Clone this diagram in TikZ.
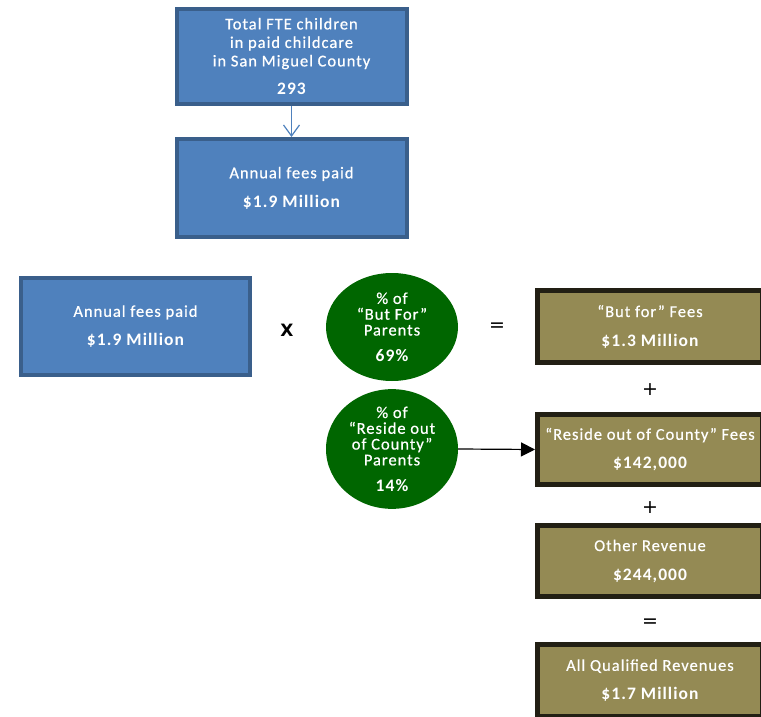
\documentclass[tikz,border=0pt]{standalone}
\usepackage{fontspec}
\setmainfont{Carlito}[LetterSpace=6, UprightFeatures={FakeBold=0.6}]
\newfontfamily\opfont{DejaVu Sans}
\newfontfamily\xfont{DejaVu Sans Bold}
\usetikzlibrary{shapes.geometric,arrows.meta}
\definecolor{bluefill}{HTML}{4F81BD}
\definecolor{blueline}{HTML}{3A5F8B}
\definecolor{olivefill}{HTML}{948A54}
\definecolor{oliveline}{HTML}{221F14}
\definecolor{greenfill}{HTML}{006600}
\newcommand\bignum[1]{{\fontsize{17.5}{18.5}\selectfont\bfseries #1}}
\begin{document}
\begin{tikzpicture}[x=1pt,y=-1pt,
  bluebox/.style={draw=blueline, line width=4pt, fill=bluefill, text=white,
    minimum width=230pt, align=center, inner sep=0pt,
    font=\fontsize{16.5}{18.5}\selectfont},
  olivebox/.style={draw=oliveline, line width=5pt, fill=olivefill, text=white,
    minimum width=225pt, minimum height=71pt, align=center, inner sep=0pt,
    font=\fontsize{16.5}{18.5}\selectfont},
  greenell/.style={ellipse, fill=greenfill, text=white, minimum width=132pt,
    minimum height=108pt, inner sep=0pt, align=center,
    font=\fontsize{16.5}{15.8}\selectfont},
  opsign/.style={text=black, inner sep=0pt, font=\opfont\fontsize{19}{19}\selectfont}
]
\useasboundingbox (0,0) rectangle (761,717);
\clip (0,0) rectangle (761,717);

% top column
\node[bluebox, minimum height=95pt] (fte) at (291.5,56.5)
  {Total FTE  children\\in paid childcare\\in San Miguel County\\[10pt]\bignum{293}};
\node[bluebox, minimum height=98pt] (fees1) at (291.5,188)
  {Annual fees paid\\[10.5pt]\bignum{\$1.9 Million}};
\draw[draw=bluefill, line width=1.2pt, -{Straight Barb[length=11pt,width=16pt]}] (fte.south) -- (fees1.north);

% formula row
\node[bluebox, minimum width=229pt, minimum height=97pt] (fees2) at (135.5,326.5)
  {Annual fees paid\\[10.5pt]\bignum{\$1.9 Million}};
\node[text=black, inner sep=0pt, font=\xfont\fontsize{17}{17}\selectfont] (times) at (287,330) {X};
\node[greenell] (butfor) at (392,327)
  {\% of\\“But For”\\Parents\\[10pt]\bignum{69\%}};
\node[opsign] (eq1) at (497,327) {=};
\node[greenell] (reside) at (392,449)
  {\% of\\“Reside out\\of County”\\Parents\\[10pt]\bignum{14\%}};

% right column
\node[olivebox, minimum height=72pt] (r1) at (650,326.5)
  {“But for” Fees\\[10.5pt]\bignum{\$1.3 Million}};
\node[opsign] (plus1) at (650,390) {+};
\node[olivebox, minimum height=70pt] (r2) at (650,449.5)
  {“Reside out of County” Fees\\[10.5pt]\bignum{\$142,000}};
\node[opsign] (plus2) at (650,508) {+};
\node[olivebox, minimum height=71pt] (r3) at (650,561)
  {Other Revenue\\[10.5pt]\bignum{\$244,000}};
\node[opsign] (eq2) at (650,623) {=};
\node[olivebox, minimum height=72pt] (r4) at (650,680.5)
  {All  Qualified Revenues\\[10.5pt]\bignum{\$1.7 Million}};

\draw[line width=1.2pt, -{Triangle[length=14pt,width=14pt]}] (reside.east) -- (r2.west);
\end{tikzpicture}
\end{document}
